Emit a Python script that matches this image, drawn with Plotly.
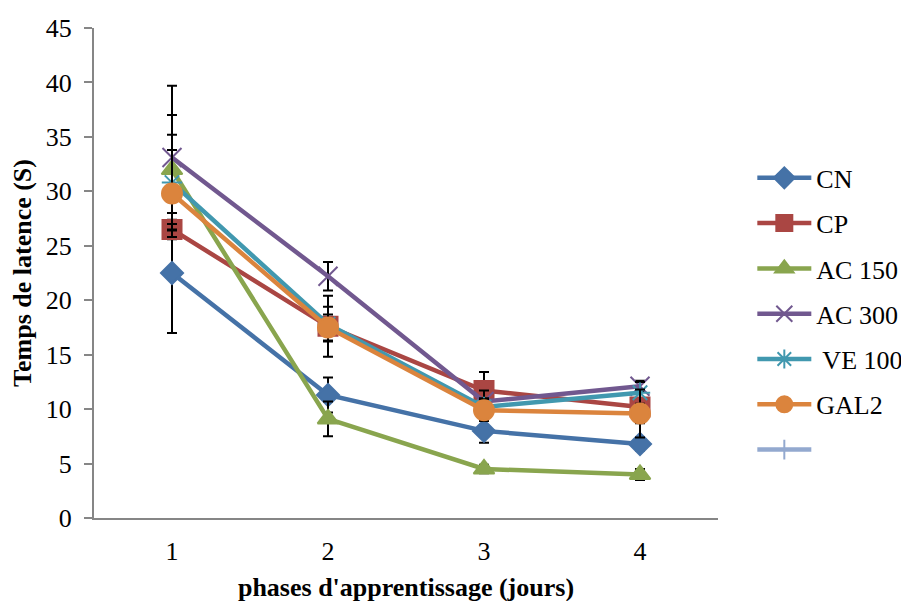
import plotly.graph_objects as go

jours = [1, 2, 3, 4]

cn = [22.5, 11.3, 8.0, 6.8]
cp = [26.5, 17.6, 11.7, 10.2]
ac150 = [32.0, 9.1, 4.5, 4.0]
ac300 = [33.1, 22.2, 10.7, 12.1]
ve100 = [30.8, 17.8, 10.2, 11.5]
gal2 = [29.8, 17.5, 9.9, 9.6]
blank = [None, None, None, None]

err_cn = [5.5, 1.6, 1.1, 0.6]
err_cp = [0.9, 2.8, 1.7, 1.5]
err_ac150 = [5.0, 1.6, 0.4, 0.5]
err_ac300 = [6.6, 1.3, 1.0, 0.5]
err_ve100 = [4.4, 1.6, 0.8, 1.0]
err_gal2 = [4.0, 1.2, 1.0, 2.2]

FONT = "Liberation Serif, Times New Roman, serif"
FS = 26

series = [
    ("CN", cn, err_cn, "#4572A7", "diamond", 17),
    ("CP", cp, err_cp, "#AA4643", "square", 19),
    ("AC 150", ac150, err_ac150, "#89A54E", "triangle-up", 18),
    ("AC 300", ac300, err_ac300, "#71588F", "x-thin-open", 19),
    (" VE 100", ve100, err_ve100, "#4198AF", "asterisk-open", 17),
    ("GAL2", gal2, err_gal2, "#DB843D", "circle", 20),
    ("", blank, None, "#93A9CF", "line-ns-open", 14),
]

fig = go.Figure()
for i, (name, vals, err, color, sym, size) in enumerate(series):
    fig.add_trace(go.Scatter(
        x=jours, y=vals, name=name, mode="lines+markers",
        legendgroup=str(i),
        line=dict(color=color, width=4.5),
        marker=dict(symbol=sym, size=size, color=color,
                    line=dict(color=color, width=2)),
        error_y=None if err is None else dict(
            type="data", array=err, visible=True,
            color="black", thickness=2, width=5),
    ))

# the page adds an 8px body margin, so the margins are shifted by 8px
fig.update_layout(
    width=909, height=601,
    paper_bgcolor="white", plot_bgcolor="white",
    margin=dict(l=86, r=199, t=20, b=91, autoexpand=False),
    font=dict(family=FONT, size=FS, color="black"),
    legend=dict(x=1.055, y=0.742, xanchor="left", yanchor="top",
                font=dict(family=FONT, size=FS), tracegroupgap=8.5,
                itemwidth=54, borderwidth=0, bgcolor="rgba(0,0,0,0)"),
    showlegend=True,
)
fig.update_xaxes(
    range=[0.5, 4.5], tickvals=jours, ticks="", showgrid=False, zeroline=False,
    showline=True, linecolor="#868686", linewidth=2, ticklabelstandoff=9,
    automargin=False,
    title=dict(text="phases d'apprentissage (jours)", standoff=13,
               font=dict(family=FONT, size=FS, weight="bold")),
)
fig.update_yaxes(
    range=[0, 45], dtick=5, ticks="outside", ticklen=8, tickcolor="#868686",
    tickwidth=2, showgrid=False, zeroline=False, ticklabelstandoff=7,
    showline=True, linecolor="#868686", linewidth=2, automargin=False,
    title=dict(text="Temps de latence (S)", standoff=12,
               font=dict(family=FONT, size=FS, weight="bold")),
)

fig.write_html("out.html")
